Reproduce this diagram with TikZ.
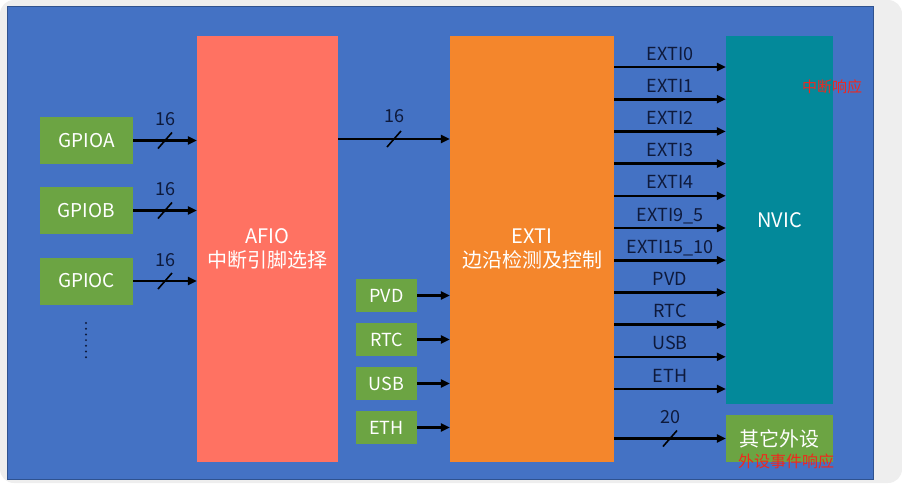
\documentclass[tikz,border=0pt]{standalone}
\usepackage{fontspec}
\setmainfont{Noto Sans CJK SC}
\usetikzlibrary{positioning,arrows.meta}

\definecolor{okno}{HTML}{EEEEEE}
\definecolor{tlo}{HTML}{4472C4}
\definecolor{ramka}{HTML}{2F528F}
\definecolor{afiokolor}{HTML}{FF7262}
\definecolor{extikolor}{HTML}{F4862C}
\definecolor{nvickolor}{HTML}{03899A}
\definecolor{zielony}{HTML}{6CA443}
\definecolor{granat}{HTML}{0E1A3C}
\definecolor{czerwony}{HTML}{F0281E}

\tikzset{
  blok/.style={rectangle, draw=none, text=white, align=center, inner sep=0pt,
    font=\fontsize{20}{24}\selectfont},
  gpio/.style={blok, fill=zielony, minimum width=93pt, minimum height=47pt,
    font=\fontsize{19}{22}\selectfont},
  zrodlo/.style={blok, fill=zielony, minimum width=61pt, minimum height=33pt,
    font=\fontsize{18}{22}\selectfont},
  linia/.style={line width=2.6pt, draw=black, -{Triangle[length=9pt,width=8pt]}},
  opis/.style={text=granat, inner sep=0pt, font=\fontsize{18}{20}\selectfont},
  kreska/.style={line width=1.6pt, draw=black}
}

\begin{document}
\begin{tikzpicture}[x=1pt, y=-1pt]

% tlo
\useasboundingbox (0,0) rectangle (902,483);
\fill[white] (0,0) rectangle (902,483);
\fill[okno, rounded corners=14pt] (0,0) rectangle (902,483);
\draw[fill=tlo, draw=ramka, line width=1pt] (7,6) rectangle (873,479);

% glowne bloki
\node[blok, fill=afiokolor, minimum width=141pt, minimum height=426pt] (afio) at (267.5,249) {AFIO\\中断引脚选择};
\node[blok, fill=extikolor, minimum width=164pt, minimum height=426pt] (exti) at (532,249) {EXTI\\边沿检测及控制};
\node[blok, fill=nvickolor, minimum width=107pt, minimum height=368pt] (nvic) at (779.5,220) {NVIC};
\node[blok, fill=zielony, minimum width=107pt, minimum height=47pt] (inne) at (779.5,438.5) {其它外设};

% porty GPIO
\foreach \n/\y in {A/140.5, B/210.5, C/281} {
  \node[gpio] (gpio\n) at (86.5,\y) {GPIO\n};
  \draw[linia] (gpio\n.east) -- (gpio\n.east -| afio.west)
    node[midway, opis, yshift=15pt, anchor=base] {16} coordinate[midway] (s\n);
}
\foreach \k in {0,...,6} {
  \fill[granat] (86,{323+5.7*\k}) circle (1.1pt);
}

% AFIO -> EXTI
\draw[linia] (afio.east |- 0,139) -- (exti.west |- 0,139)
  node[midway, opis, yshift=17pt, anchor=base] {16} coordinate[midway] (s16);

% pozostale zrodla
\foreach \n/\y in {PVD/295.5, RTC/339.5, USB/383.5, ETH/427.5} {
  \node[zrodlo] (z\n) at (386.5,\y) {\n};
  \draw[linia] (z\n.east) -- (z\n.east -| exti.west);
}

% wyjscia EXTI
\foreach \i/\t in {0/EXTI0, 1/EXTI1, 2/EXTI2, 3/EXTI3, 4/EXTI4, 5/EXTI9\_5,
  6/EXTI15\_10, 7/PVD, 8/RTC, 9/USB, 10/ETH} {
  \pgfmathsetmacro{\y}{67+32.2*\i}
  \draw[linia] (exti.east |- 0,\y) -- (nvic.west |- 0,\y)
    node[midway, opis, yshift=7pt, anchor=base] {\t};
}
\draw[linia] (exti.east |- inne.west) -- (inne.west)
  node[midway, opis, yshift=15pt, anchor=base] {20} coordinate[midway] (s20);

% kreski magistrali
\foreach \s in {sA, sB, sC, s16, s20} {
  \draw[kreska] ([shift={(-7,8)}]\s) -- ([shift={(7,-8)}]\s);
}

% dopiski
\node[text=czerwony, inner sep=0pt, font=\fontsize{15}{18}\selectfont] (nvicopis) at (832,87) {中断响应};
\node[text=czerwony, inner sep=0pt, font=\fontsize{16}{19}\selectfont] (inneopis) at (786,461) {外设事件响应};

\end{tikzpicture}
\end{document}
